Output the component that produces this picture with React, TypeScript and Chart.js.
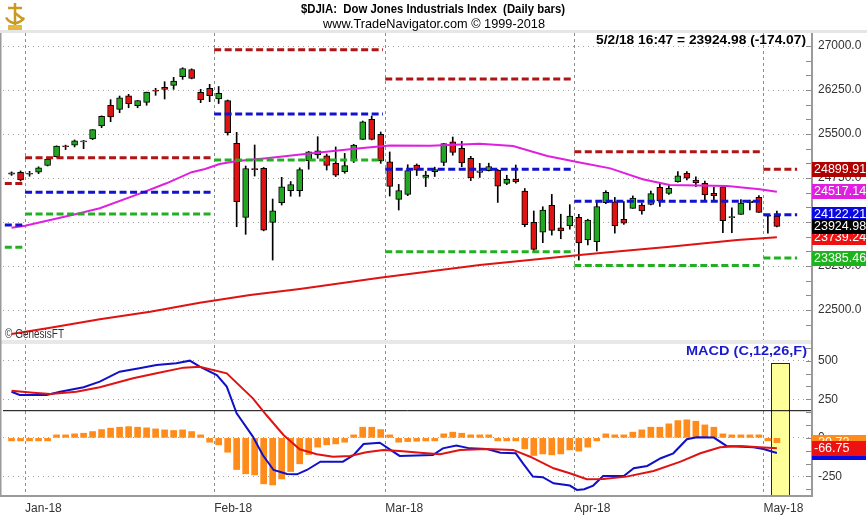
import React, { useEffect, useRef } from 'react';
import { Chart, registerables } from 'chart.js';

Chart.register(...registerables);

// ---------------- DATA ----------------
const DATES = [
  '12/28/17', '12/29/17',
  '1/2/18', '1/3/18', '1/4/18', '1/5/18', '1/8/18', '1/9/18', '1/10/18', '1/11/18', '1/12/18', '1/16/18', '1/17/18',
  '1/18/18', '1/19/18', '1/22/18', '1/23/18', '1/24/18', '1/25/18', '1/26/18', '1/29/18', '1/30/18', '1/31/18',
  '2/1/18', '2/2/18', '2/5/18', '2/6/18', '2/7/18', '2/8/18', '2/9/18', '2/12/18', '2/13/18', '2/14/18', '2/15/18',
  '2/16/18', '2/20/18', '2/21/18', '2/22/18', '2/23/18', '2/26/18', '2/27/18', '2/28/18',
  '3/1/18', '3/2/18', '3/5/18', '3/6/18', '3/7/18', '3/8/18', '3/9/18', '3/12/18', '3/13/18', '3/14/18', '3/15/18',
  '3/16/18', '3/19/18', '3/20/18', '3/21/18', '3/22/18', '3/23/18', '3/26/18', '3/27/18', '3/28/18', '3/29/18',
  '4/2/18', '4/3/18', '4/4/18', '4/5/18', '4/6/18', '4/9/18', '4/10/18', '4/11/18', '4/12/18', '4/13/18', '4/16/18',
  '4/17/18', '4/18/18', '4/19/18', '4/20/18', '4/23/18', '4/24/18', '4/25/18', '4/26/18', '4/27/18', '4/30/18',
  '5/1/18', '5/2/18',
];

const OPEN = [
  24815, 24849,
  24815, 24850, 24964, 25114, 25295, 25312, 25365, 25417, 25638, 25987, 25920,
  26150, 25985, 26040, 26240, 26296, 26330, 26477, 26600, 26211, 26279,
  26097, 26068, 25342, 24080, 24910, 24915, 23995, 24329, 24534, 24534, 25045,
  25142, 25130, 25001, 24858, 25045, 25410, 25751, 25495,
  25024, 24387, 24472, 24972, 24762, 24858, 25018, 25369, 25256, 25086, 24847,
  24875, 24886, 24660, 24728, 24528, 23995, 23825, 24285, 23903, 23932,
  24080, 23693, 23665, 24329, 24346, 24046, 24234, 24290, 24302, 24592, 24489,
  24687, 24830, 24716, 24659, 24489, 24602, 24075, 24131, 24330, 24421,
  24105, 24102,
];
const HIGH = [
  24855, 24871,
  24864, 24941, 25105, 25299, 25311, 25399, 25390, 25574, 25810, 26086, 26148,
  26177, 26072, 26215, 26280, 26392, 26466, 26630, 26612, 26262, 26347,
  26310, 26080, 25529, 24955, 25313, 24930, 24392, 24762, 24690, 24924, 25203,
  25454, 25159, 25280, 25170, 25325, 25722, 25807, 25535,
  25194, 24641, 24977, 24990, 24867, 24935, 25336, 25449, 25376, 25120, 25000,
  25003, 24895, 24797, 24972, 24571, 24188, 24260, 24471, 24133, 24296,
  24131, 24048, 24346, 24534, 24420, 24349, 24445, 24320, 24528, 24661, 24640,
  24858, 24858, 24770, 24699, 24592, 24620, 24244, 24382, 24375, 24452,
  24131, 24185,
];
const LOW = [
  24795, 24700,
  24780, 24825, 24955, 25105, 25235, 25280, 25250, 25404, 25608, 25710, 25863,
  25948, 25948, 25990, 26160, 26097, 26262, 26432, 26440, 26034, 26051,
  26020, 25483, 23920, 23790, 24784, 23850, 23352, 24290, 24440, 24438, 24900,
  25086, 24886, 24775, 24831, 25014, 25404, 25399, 25000,
  24443, 24205, 24450, 24792, 24604, 24776, 24962, 25139, 24943, 24706, 24760,
  24870, 24334, 24636, 24664, 23920, 23509, 23648, 23777, 23715, 23878,
  23352, 23610, 23506, 24313, 23811, 23960, 24234, 24133, 24290, 24268, 24470,
  24680, 24719, 24604, 24378, 24378, 23818, 23818, 24131, 24205, 24165,
  23808, 23917,
];
const CLOSE = [
  24838, 24719,
  24824, 24922, 25075, 25295, 25283, 25385, 25369, 25574, 25803, 25792, 26115,
  26017, 26071, 26214, 26232, 26262, 26403, 26617, 26449, 26085, 26153,
  26194, 25521, 24346, 24913, 24893, 23860, 24191, 24601, 24640, 24893, 25198,
  25215, 24965, 24797, 24962, 25310, 25709, 25410, 25040,
  24608, 24538, 24875, 24884, 24801, 24895, 25335, 25188, 25007, 24758, 24873,
  24946, 24610, 24728, 24687, 23957, 23533, 24202, 23857, 23848, 24103,
  23644, 24033, 24264, 24505, 23933, 23979, 24408, 24189, 24483, 24360, 24573,
  24787, 24748, 24665, 24463, 24449, 24024, 24084, 24322, 24355, 24163,
  24099, 23924.98,
];
const LAST_TIME = '5/2/18 16:47';
const LAST_CHANGE = -174.07;

const MONTH_LABELS = ['Jan-18', 'Feb-18', 'Mar-18', 'Apr-18', 'May-18'];
const MONTH_START_INDEX = [2, 23, 42, 63, 84];

// moving averages (bar index, value)
const SMA50_X = [0, 1.5, 4.3, 7.2, 9.8, 14.3, 17.2, 20, 21.5, 23.1, 25.1, 28.3, 32.6, 38.1, 42, 46.5, 52, 55.7, 59.5, 63.1, 66.5, 70.1, 73.1, 79.5, 83.1, 85];
const SMA50_VALUES = [23903, 23937, 24034, 24136, 24234, 24489, 24660, 24850, 24903, 24990, 25040, 25086, 25160, 25250, 25305, 25301, 25335, 25296, 25125, 25015, 24915, 24728, 24631, 24614, 24557, 24517.14];
const SMA200_X = [0, 4.3, 9.8, 15.4, 20.9, 26.5, 32, 40.9, 52, 63.1, 65.7, 73.1, 80.6, 85];
const SMA200_VALUES = [22090, 22199, 22341, 22471, 22624, 22756, 22858, 23051, 23267, 23438, 23477, 23579, 23693, 23739.24];

// monthly pivot levels (Dec, Jan, Feb, Mar, Apr, May)
const PIVOT_START = [-0.75, 1.5, 22.5, 41.5, 62.5, 83.5];
const PIVOT_END = [1.25, 22.25, 41.25, 62.25, 83.25, 87.25];
const PIVOT_R1 = [24655, 25095, 26935, 26440, 25200, 24899.91];
const PIVOT_P = [23948, 24508, 25840, 24900, 24355, 24122.21];
const PIVOT_S1 = [23568, 24137, 25058, 23495, 23260, 23385.46];

// MACD (C,12,26,F)
const MACD_X = [0, 0.9, 3.9, 5.4, 8, 9.8, 12, 14.2, 16.1, 18.3, 19.8, 20.9, 22.8, 23.9, 25, 26.8, 27.9, 29.1, 30.6, 31.7, 32.8, 34.3, 36.8, 38, 39.1, 40.9, 43.1, 46.8, 47.9, 49.4, 50.9, 52.8, 54.3, 56, 56.8, 57.9, 59, 60.2, 62, 62.8, 63.6, 64.6, 65.7, 68, 69.1, 70.6, 72.1, 73.5, 75, 76.1, 78, 79.4, 82.4, 83.5, 85];
const MACD_VALUES = [299, 278, 278, 299, 328, 364, 429, 451, 472, 483, 500, 461, 407, 332, 159, 8, -111, -208, -234, -236, -208, -154, -154, -111, -40, -31, -117, -111, -68, -50, -68, -72, -96, -100, -165, -251, -255, -294, -309, -337, -333, -309, -247, -247, -197, -182, -132, -100, -9, 4, 2, -52, -61, -72, -97.47];
const SIGNAL_X = [0, 2.4, 4.3, 7.2, 9.8, 13.5, 16.1, 19.1, 20.9, 23.9, 26.8, 28.3, 30.2, 32, 33.9, 35.7, 37.6, 39.4, 41.3, 43.1, 45.4, 47.6, 49.8, 52.8, 55.7, 57.6, 60.2, 62, 63.9, 65.7, 68.3, 71.3, 74.3, 76.5, 78.7, 80.9, 83.1, 85];
const SIGNAL_VALUES = [306, 293, 284, 299, 328, 386, 418, 455, 461, 418, 256, 148, 19, -74, -106, -122, -117, -93, -78, -85, -96, -106, -78, -72, -78, -122, -197, -229, -268, -266, -251, -214, -154, -100, -61, -52, -61, -66.75];
const HISTOGRAM = [
  -6, -10, -6, -8, -4, 11, 19, 26, 30, 41,
  54, 63, 69, 73, 69, 65, 58, 52, 48, 52,
  41, 4, -28, -45, -93, -205, -233, -240, -298, -305,
  -266, -218, -168, -108, -60, -45, -39, -28, 5, 69,
  69, 54, 4, -28, -24, -22, -20, -8, 26, 37,
  30, 4, 5, 4, -8, -12, -18, -71, -114, -104,
  -110, -104, -78, -86, -60, -12, 26, 15, 15, 37,
  52, 69, 69, 91, 112, 117, 108, 84, 69, 26,
  4, 3, 4, 3, -10, -30.72,
];
const MACD_REF_LEVEL = 176;
const HIGHLIGHT_RANGE = [84.4, 86.4];
const HIGHLIGHT_TOP = 485;

const PRICE_TICKS = [22500, 23250, 24000, 24750, 25500, 26250, 27000];
const MACD_TICKS = [-250, 0, 250, 500];
const PRICE_MINOR_STEP = 250;
const MACD_MINOR_STEP = 250 / 3;

const X_MIN = -0.95;
const X_MAX = 88.9;
const PRICE_MIN = 21955;
const PRICE_MAX = 27222;
const MACD_MIN = -383;
const MACD_MAX = 621;

// ---------------- STYLE ----------------
const FONT = "'Liberation Sans', Arial, sans-serif";
const NARROW = "'Liberation Sans Narrow', 'Arial Narrow', 'Liberation Sans', Arial, sans-serif";
const UP = '#22a722';
const DOWN = '#e01212';
const R1_COLOR = '#b01414';
const P_COLOR = '#1212d0';
const S1_COLOR = '#22b022';
const SMA50_COLOR = '#e020e0';
const SMA200_COLOR = '#e01212';
const MACD_COLOR = '#1010c8';
const SIGNAL_COLOR = '#e01212';
const HIST_COLOR = '#ff8c1a';

const xy = (xs: number[], ys: number[]) => xs.map((x, i) => ({ x, y: ys[i] }));
const last = (a: number[]) => a[a.length - 1];

function pivotData(levels: number[]) {
  const pts: any[] = [];
  levels.forEach((v, k) => {
    pts.push({ x: PIVOT_START[k], y: v }, { x: PIVOT_END[k], y: v }, { x: PIVOT_END[k], y: null });
  });
  return pts;
}

function fitText(ctx: CanvasRenderingContext2D, text: string, x: number, y: number, width: number, font: string, color: string, align: 'left' | 'center' | 'right') {
  ctx.save();
  ctx.font = font;
  ctx.fillStyle = color;
  ctx.textBaseline = 'middle';
  ctx.textAlign = 'left';
  const w = ctx.measureText(text).width;
  const s = width / w;
  const left = align === 'center' ? x - width / 2 : align === 'right' ? x - width : x;
  ctx.translate(left, y);
  ctx.scale(s, 1);
  ctx.fillText(text, 0, 0);
  ctx.restore();
}

function valueBox(ctx: CanvasRenderingContext2D, scale: any, value: number, color: string, x0: number, x1: number) {
  const y = scale.getPixelForValue(value);
  ctx.fillStyle = color;
  ctx.fillRect(x0, Math.round(y - 7.5), x1 - x0, 15);
  ctx.fillStyle = '#ffffff';
  ctx.font = '12.5px ' + FONT;
  ctx.textBaseline = 'middle';
  ctx.textAlign = 'left';
  ctx.fillText(value.toFixed(2), x0 + 2, Math.round(y - 7.5) + 8);
}

function drawLogo(ctx: CanvasRenderingContext2D) {
  ctx.save();
  ctx.strokeStyle = '#c89a1e';
  ctx.fillStyle = '#e3b83c';
  ctx.lineWidth = 2.5;
  ctx.beginPath();
  ctx.moveTo(15, 3);
  ctx.lineTo(15, 26);
  ctx.stroke();
  ctx.beginPath();
  ctx.arc(15, 13, 10, 0.15 * Math.PI, 0.85 * Math.PI);
  ctx.stroke();
  ctx.beginPath();
  ctx.moveTo(8, 8);
  ctx.lineTo(22, 8);
  ctx.stroke();
  ctx.beginPath();
  ctx.moveTo(15, 13);
  ctx.lineTo(24, 20);
  ctx.stroke();
  ctx.fillRect(8, 25, 14, 5);
  ctx.restore();
}

const decorations = {
  id: 'decorations',
  beforeDraw(chart: any) {
    const { ctx, width, height } = chart;
    ctx.save();
    ctx.fillStyle = '#ffffff';
    ctx.fillRect(0, 0, width, height);
    ctx.fillStyle = '#e6e6e6';
    ctx.fillRect(0, 30, width, 3);
    drawLogo(ctx);
    fitText(ctx, '$DJIA:  Dow Jones Industrials Index  (Daily bars)', 433, 9.5, 264, 'bold 13px ' + FONT, '#000', 'center');
    fitText(ctx, 'www.TradeNavigator.com \u00A9 1999-2018', 434, 24, 222, '13px ' + FONT, '#000', 'center');
    ctx.restore();
  },
  beforeDatasetsDraw(chart: any) {
    const { ctx, scales } = chart;
    const l = scales.x.getPixelForValue(HIGHLIGHT_RANGE[0]);
    const r = scales.x.getPixelForValue(HIGHLIGHT_RANGE[1]);
    const t = scales.y2.getPixelForValue(HIGHLIGHT_TOP);
    const b = scales.y2.bottom - 1;
    ctx.save();
    ctx.fillStyle = '#ffff99';
    ctx.fillRect(l, t, r - l, b - t);
    ctx.strokeStyle = '#1a1a80';
    ctx.lineWidth = 1;
    ctx.strokeRect(Math.round(l) + 0.5, Math.round(t) + 0.5, Math.round(r - l), Math.round(b - t));
    ctx.restore();
  },
  afterDraw(chart: any) {
    const { ctx, scales, chartArea } = chart;
    const y = scales.y;
    const y2 = scales.y2;
    const right = chartArea.right;
    ctx.save();
    // pane separator
    ctx.fillStyle = '#e8e8e8';
    ctx.fillRect(0, y.bottom - 2, right, 4);
    // borders
    ctx.fillStyle = '#9a9a9a';
    ctx.fillRect(0, chartArea.top, 1.5, chartArea.bottom - chartArea.top);
    ctx.fillRect(right - 1, chartArea.top, 2, chartArea.bottom - chartArea.top);
    ctx.fillRect(0, chartArea.bottom - 2, right + 1, 2);
    // minor ticks
    ctx.strokeStyle = '#8a8a8a';
    ctx.lineWidth = 1;
    ctx.beginPath();
    for (let v = Math.ceil(PRICE_MIN / PRICE_MINOR_STEP) * PRICE_MINOR_STEP; v <= PRICE_MAX; v += PRICE_MINOR_STEP) {
      const py = Math.round(y.getPixelForValue(v)) + 0.5;
      if (py < y.top + 2 || py > y.bottom - 3) continue;
      ctx.moveTo(right - 6, py);
      ctx.lineTo(right - 1, py);
    }
    for (let k = Math.ceil(MACD_MIN / MACD_MINOR_STEP); k * MACD_MINOR_STEP <= MACD_MAX; k++) {
      const py = Math.round(y2.getPixelForValue(k * MACD_MINOR_STEP)) + 0.5;
      if (py < y2.top + 3 || py > y2.bottom - 3) continue;
      ctx.moveTo(right - 6, py);
      ctx.lineTo(right - 1, py);
    }
    ctx.stroke();

    // value labels on the right
    const bx0 = right;
    const bx1 = right + 54;
    valueBox(ctx, y, last(PIVOT_R1), '#b00000', bx0, bx1);
    valueBox(ctx, y, last(SMA50_VALUES), '#e020e0', bx0, bx1);
    valueBox(ctx, y, last(PIVOT_P), '#0a0ae0', bx0, bx1);
    valueBox(ctx, y, last(SMA200_VALUES), '#ee1111', bx0, bx1);
    valueBox(ctx, y, last(PIVOT_S1), '#1db31d', bx0, bx1);
    valueBox(ctx, y, last(CLOSE), '#000000', bx0, bx1);
    valueBox(ctx, y2, last(HISTOGRAM), '#ff8c1a', bx0, bx1);
    valueBox(ctx, y2, last(MACD_VALUES), '#0a0ae0', bx0, bx1);
    valueBox(ctx, y2, last(SIGNAL_VALUES), '#ee1111', bx0, bx1);

    // texts
    const hdr = `${LAST_TIME} = ${last(CLOSE).toFixed(2)} (${LAST_CHANGE.toFixed(2)})`;
    fitText(ctx, hdr, right - 6, 40, 210, 'bold 13px ' + FONT, '#000', 'right');
    fitText(ctx, 'MACD (C,12,26,F)', right - 5, y2.top + 9, 121, 'bold 13px ' + FONT, '#1a1ad0', 'right');
    fitText(ctx, '\u00A9 GenesisFT', 5, y.bottom - 7, 59, '12px ' + FONT, '#333', 'left');
    ctx.restore();
  },
};

export default function App() {
  const ref = useRef<HTMLCanvasElement>(null);

  useEffect(() => {
    document.body.style.margin = '0';
    const candleIdx = DATES.map((_, i) => i);
    const chart = new Chart(ref.current as HTMLCanvasElement, {
      type: 'line',
      data: {
        datasets: [
          { type: 'line', label: 'R1', yAxisID: 'y', data: pivotData(PIVOT_R1), borderColor: R1_COLOR, borderWidth: 3, borderDash: [7, 3.5], pointRadius: 0, spanGaps: false, order: 0 } as any,
          { type: 'line', label: 'P', yAxisID: 'y', data: pivotData(PIVOT_P), borderColor: P_COLOR, borderWidth: 3, borderDash: [7, 3.5], pointRadius: 0, spanGaps: false, order: 0 } as any,
          { type: 'line', label: 'S1', yAxisID: 'y', data: pivotData(PIVOT_S1), borderColor: S1_COLOR, borderWidth: 3, borderDash: [7, 3.5], pointRadius: 0, spanGaps: false, order: 0 } as any,
          { type: 'line', label: 'SMA50', yAxisID: 'y', data: xy(SMA50_X, SMA50_VALUES), borderColor: SMA50_COLOR, borderWidth: 2, pointRadius: 0, order: 0 } as any,
          { type: 'line', label: 'SMA200', yAxisID: 'y', data: xy(SMA200_X, SMA200_VALUES), borderColor: SMA200_COLOR, borderWidth: 2, pointRadius: 0, order: 0 } as any,
          {
            type: 'bar', label: 'Body', yAxisID: 'y', grouped: false, order: 1,
            data: candleIdx.map((i) => ({ x: i, y: [OPEN[i], CLOSE[i]] })),
            backgroundColor: candleIdx.map((i) => (CLOSE[i] >= OPEN[i] ? UP : DOWN)),
            borderColor: '#000', borderWidth: 1, borderSkipped: false, barThickness: 6, minBarLength: 1,
          } as any,
          {
            type: 'bar', label: 'Wick', yAxisID: 'y', grouped: false, order: 2,
            data: candleIdx.map((i) => ({ x: i, y: [LOW[i], HIGH[i]] })),
            backgroundColor: '#000', borderWidth: 0, barThickness: 1,
          } as any,
          {
            type: 'bar', label: 'Histogram', yAxisID: 'y2', grouped: false, order: 2,
            data: HISTOGRAM.map((v, i) => ({ x: i, y: v })),
            backgroundColor: HIST_COLOR, borderWidth: 0, barThickness: 6, minBarLength: 3,
          } as any,
          { type: 'line', label: 'Signal', yAxisID: 'y2', data: xy(SIGNAL_X, SIGNAL_VALUES), borderColor: SIGNAL_COLOR, borderWidth: 2, pointRadius: 0, order: 0 } as any,
          { type: 'line', label: 'MACD', yAxisID: 'y2', data: xy(MACD_X, MACD_VALUES), borderColor: MACD_COLOR, borderWidth: 2, pointRadius: 0, order: 0 } as any,
          { type: 'line', label: 'Ref', yAxisID: 'y2', data: [{ x: X_MIN, y: MACD_REF_LEVEL }, { x: X_MAX, y: MACD_REF_LEVEL }], borderColor: '#000', borderWidth: 1, pointRadius: 0, order: 0 } as any,
        ],
      },
      options: {
        animation: false,
        responsive: false,
        devicePixelRatio: 1,
        events: [],
        layout: { padding: { left: 3, top: 33, right: 0, bottom: 0 } },
        plugins: { legend: { display: false }, tooltip: { enabled: false }, title: { display: false } },
        scales: {
          x: {
            type: 'linear', min: X_MIN, max: X_MAX, offset: false, position: 'bottom',
            grid: { color: '#8c8c8c', lineWidth: 1, drawTicks: false, offset: false },
            border: { display: false, dash: [3, 3] },
            ticks: {
              autoSkip: false, maxRotation: 0, align: 'start', padding: 4, color: '#333',
              font: { family: NARROW, size: 12 },
              callback: (_v: any, index: number) => MONTH_LABELS[index],
            },
            afterBuildTicks: (s: any) => { s.ticks = MONTH_START_INDEX.map((i) => ({ value: i - 0.5 })); },
            afterFit: (s: any) => { s.height = 20; },
          },
          y: {
            type: 'linear', position: 'right', stack: 'panes', stackWeight: 309, min: PRICE_MIN, max: PRICE_MAX,
            grid: { color: '#a0a0a0', lineWidth: 1, drawTicks: false },
            border: { display: false, dash: [1, 4] },
            ticks: { padding: 6, color: '#333', font: { family: FONT, size: 12 }, callback: (v: any) => Number(v).toFixed(1) },
            afterBuildTicks: (s: any) => { s.ticks = PRICE_TICKS.map((v) => ({ value: v })); },
            afterFit: (s: any) => { s.width = 55; },
          },
          y2: {
            type: 'linear', position: 'right', stack: 'panes', stackWeight: 155, min: MACD_MIN, max: MACD_MAX,
            grid: { color: '#a0a0a0', lineWidth: 1, drawTicks: false },
            border: { display: false, dash: [1, 4] },
            ticks: { padding: 6, color: '#333', font: { family: FONT, size: 12 }, callback: (v: any) => String(v) },
            afterBuildTicks: (s: any) => { s.ticks = MACD_TICKS.map((v) => ({ value: v })); },
            afterFit: (s: any) => { s.width = 55; },
          },
        },
      } as any,
      plugins: [decorations],
    });
    return () => chart.destroy();
  }, []);

  return (
    <div style={{ position: 'fixed', left: 0, top: 0, width: 867, height: 517, background: '#fff' }}>
      <canvas ref={ref} width={867} height={517} style={{ display: 'block', width: 867, height: 517 }} />
    </div>
  );
}
